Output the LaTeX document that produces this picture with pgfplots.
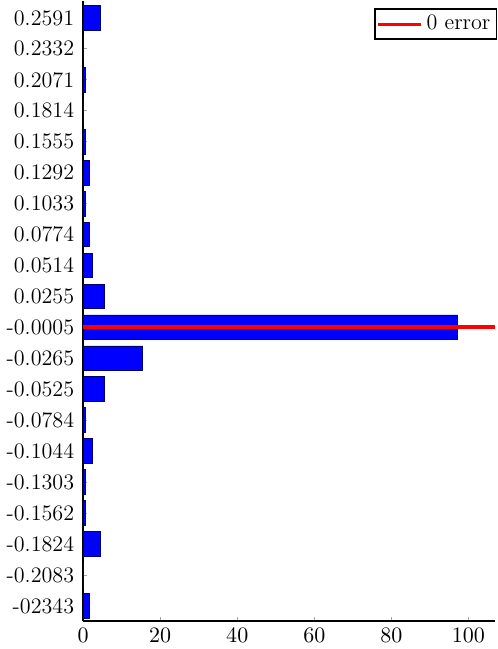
\documentclass[border=0pt]{standalone}
\usepackage{pgfplots}
\pgfplotsset{compat=1.18}
\usepackage{pgfplotstable}
\definecolor{barblue}{RGB}{0,0,255}
\definecolor{baredge}{RGB}{0,0,110}

% y position (0 = bottom category), count
\pgfplotstableread{
y x
0 1.6
1 0
2 4.4
3 0.55
4 0.55
5 2.3
6 0.55
7 5.5
8 15.5
9 97.2
10 5.5
11 2.3
12 1.6
13 0.55
14 1.6
15 0.55
16 0
17 0.55
18 0
19 4.4
}\errtable

\begin{document}
\begin{tikzpicture}
\begin{axis}[
    scale only axis,
    width=205pt, height=308.5pt,
    axis lines*=left,
    axis line style={line width=0.9pt},
    xmin=0, xmax=107,
    ymin=-0.49, ymax=19.55,
    xtick={0,20,40,60,80,100},
    ytick={0,...,19},
    yticklabels={-02343,-0.2083,-0.1824,-0.1562,-0.1303,-0.1044,-0.0784,-0.0525,-0.0265,-0.0005,0.0255,0.0514,0.0774,0.1033,0.1292,0.1555,0.1814,0.2071,0.2332,0.2591},
    tick align=inside,
    major tick length=2pt,
    tick style={gray!70, line width=0.4pt},
    tick label style={font=\fontsize{11}{13}\selectfont},
    yticklabel style={xshift=-1pt},
    legend style={at={(rel axis cs:1.005,0.988)}, anchor=north east,
        draw=black, line width=0.9pt, inner sep=1pt,
        font=\fontsize{11}{13}\selectfont,
        legend cell align=left},
    legend image code/.code={\draw[red, line width=1.4pt] (0,0) -- (0.75cm,0);},
    clip=false,
]
\addplot[xbar, bar width=0.8, fill=barblue, draw=baredge, line width=0.4pt, forget plot]
    table[x=x, y=y] {\errtable};
\addplot[red, line width=2pt] coordinates {(0,9) (107,9)};
\addlegendentry{0 error}
\end{axis}
\end{tikzpicture}
\end{document}
